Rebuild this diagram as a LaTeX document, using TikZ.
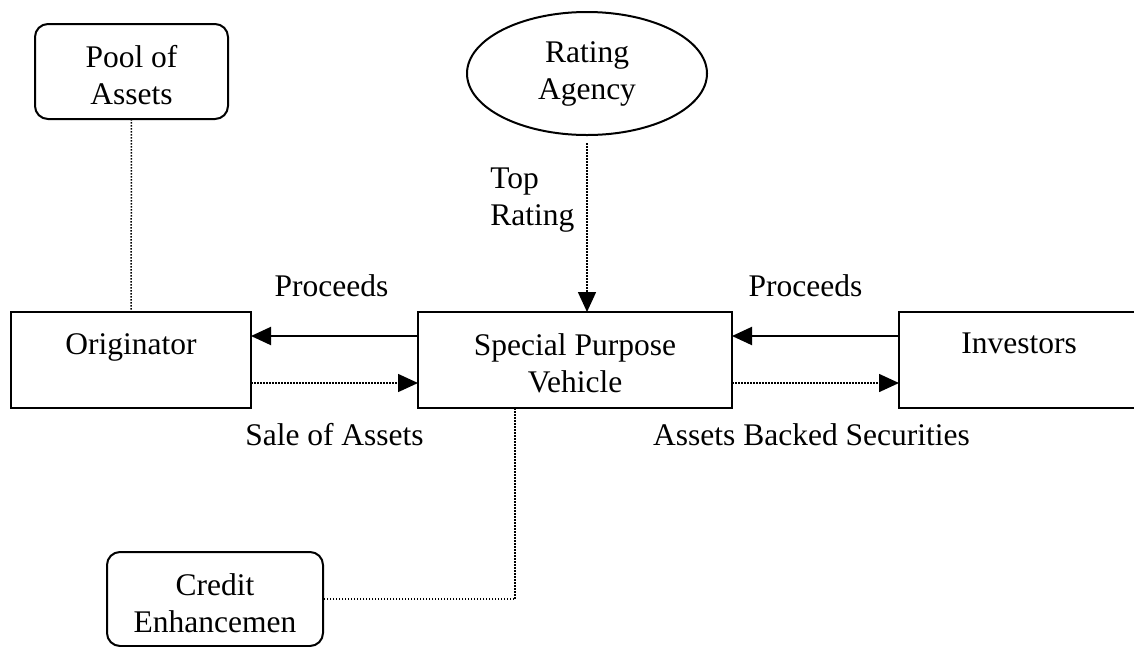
\documentclass[tikz,border=0pt]{standalone}
\usepackage{fontspec}
\setmainfont{Liberation Serif}
\usetikzlibrary{arrows.meta, positioning, shapes.geometric}

\begin{document}
\begin{tikzpicture}[x=1pt, y=-1pt, >={Triangle[length=20pt, width=18pt]},
    font=\fontsize{31.5}{37}\selectfont,
    box/.style={draw, rectangle, line width=2pt, inner sep=0pt, outer sep=0pt},
    roundbox/.style={box, rounded corners=13pt},
    boxtext/.style={label={[anchor=north, yshift=-21pt, inner sep=0pt, align=center]north:{#1}}},
    lab/.style={inner sep=0pt},
    flow/.style={->, line width=2pt},
    dots/.style={line width=1.5pt, dash pattern=on 1.5pt off 1.5pt}]

    \useasboundingbox (0,0) rectangle (1134,646);

    \node[roundbox, minimum width=193pt, minimum height=95pt, boxtext={Pool of\\Assets}] (pool) at (131.5,71.5) {};
    \node[draw, ellipse, line width=2pt, minimum width=240pt, minimum height=123pt, inner sep=0pt, outer sep=0pt, align=center] (rating) at (587,73.5) {Rating\\Agency};
    \node[box, minimum width=240pt, minimum height=96pt, boxtext=Originator] (orig) at (131,360) {};
    \node[box, minimum width=314pt, minimum height=96pt, boxtext={Special Purpose\\Vehicle}] (spv) at (575,360) {};
    \node[box, minimum width=240pt, minimum height=96pt, boxtext=Investors] (inv) at (1019,360) {};
    \node[roundbox, minimum width=216pt, minimum height=94pt, boxtext={Credit\\Enhancemen}] (credit) at (215,599) {};

    \coordinate (upper) at (0,336);
    \coordinate (lower) at (0,383);
    \coordinate[left=60pt of spv.south] (drop);

    \draw[dots] (pool) -- (orig);
    \draw[dots, ->, shorten <=8pt] (rating) -- node[at start, lab, anchor=north east, align=left, xshift=-12pt, yshift=-32pt] (toprating) {Top\\Rating} (rating |- spv.north);

    \draw[flow] (spv.west |- upper) -- node[lab, above=38pt, xshift=-3pt] {Proceeds} (orig.east |- upper);
    \draw[flow] (inv.west |- upper) -- node[lab, above=38pt, xshift=-10pt] {Proceeds} (spv.east |- upper);
    \draw[dots, ->] (orig.east |- lower) -- node[lab, below=40pt] {Sale of Assets} (spv.west |- lower);
    \draw[dots, ->] (spv.east |- lower) -- node[lab, below=40pt, xshift=-4pt] {Assets Backed Securities} (inv.west |- lower);

    \draw[dots] (drop) |- (credit);
\end{tikzpicture}
\end{document}
